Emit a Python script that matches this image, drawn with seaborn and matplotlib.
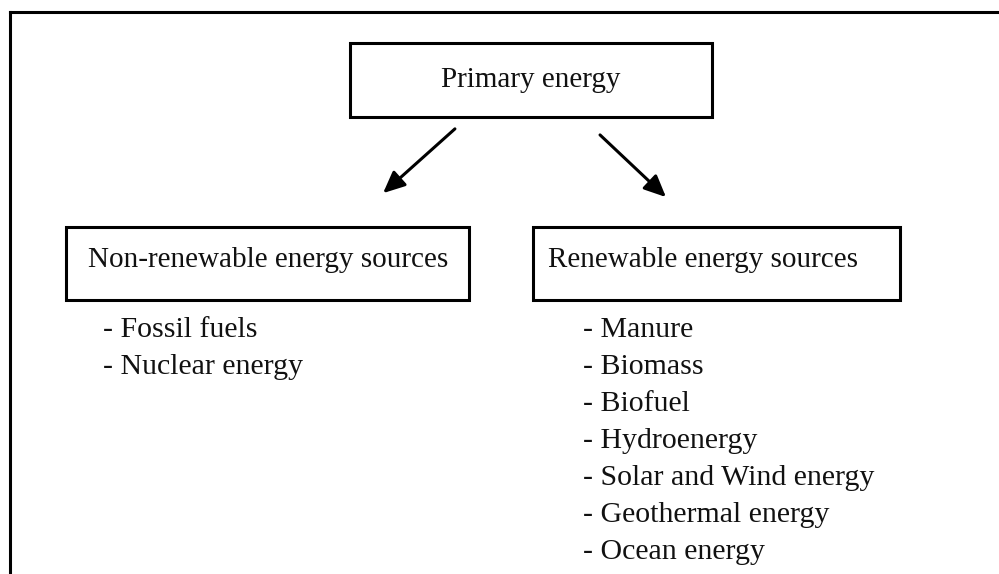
import matplotlib
matplotlib.use("Agg")
import matplotlib.pyplot as plt
import seaborn as sns
from matplotlib.patches import Rectangle

# Diagram content
top_label = "Primary energy"
branch_labels = ["Non-renewable energy sources", "Renewable energy sources"]
non_renewable_items = ["Fossil fuels", "Nuclear energy"]
renewable_items = ["Manure", "Biomass", "Biofuel", "Hydroenergy",
                   "Solar and Wind energy", "Geothermal energy", "Ocean energy"]

sns.set_theme(style="white")
plt.rcParams['font.family'] = ['Liberation Serif', 'DejaVu Serif']

fig = plt.figure(figsize=(9.99, 5.74), dpi=100)
ax = fig.add_axes([0, 0, 1, 1])
ax.set_xlim(0, 999)
ax.set_ylim(574, 0)
ax.axis('off')

lw = 2.2
fs = 21

# outer frame (only top and left visible)
ax.plot([10, 10], [574, 12], color='black', lw=lw, solid_capstyle='projecting')
ax.plot([10, 999], [12, 12], color='black', lw=lw, solid_capstyle='projecting')

# top box
ax.add_patch(Rectangle((350, 43), 362, 74, fill=False, ec='black', lw=lw))
ax.text(531, 80, top_label, ha='center', va='center', fontsize=fs, color='#111111')

# branch boxes
boxes = [(66, 227, 403, 73), (533, 227, 367, 73)]
text_x = [88, 548]
for (x, y, w, h), tx, label in zip(boxes, text_x, branch_labels):
    ax.add_patch(Rectangle((x, y), w, h, fill=False, ec='black', lw=lw))
    ax.text(tx, 260, label, ha='left', va='center', fontsize=fs, color='#111111')

# arrows
arrow_kw = dict(arrowstyle='-|>,head_length=1.1,head_width=0.5', color='black', lw=lw)
ax.annotate("", xy=(381, 195), xytext=(457, 127), arrowprops=arrow_kw)
ax.annotate("", xy=(668, 199), xytext=(598, 133), arrowprops=arrow_kw)

# item lists
for x0, items in [(103, non_renewable_items), (583, renewable_items)]:
    for i, item in enumerate(items):
        ax.text(x0, 330 + i * 37, "- " + item, ha='left', va='center',
                fontsize=21.5, color='#111111')

fig.savefig("out.png", dpi=100)
